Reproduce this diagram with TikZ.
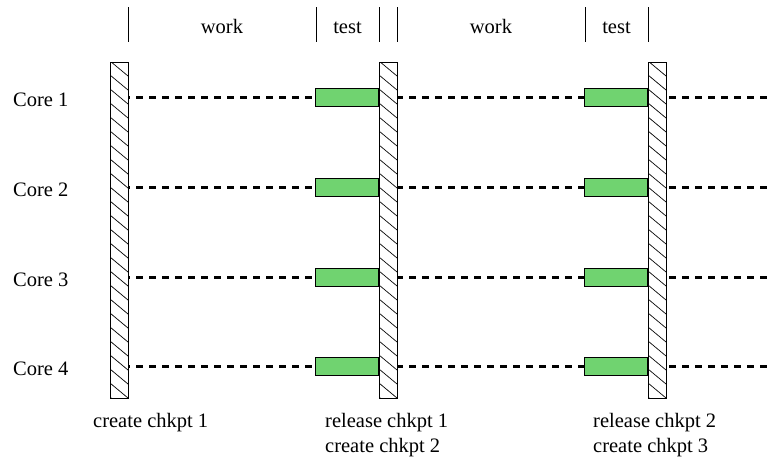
\documentclass[tikz,border=0pt]{standalone}
\usepackage{fontspec}
\setmainfont{Liberation Serif}
\usetikzlibrary{positioning}
\definecolor{testgreen}{RGB}{112,211,112}
\begin{document}
\begin{tikzpicture}[x=1pt, y=-1pt,
  txt/.style={font=\fontsize{20.5}{25}\selectfont, inner sep=0pt},
  chkbar/.style={draw, line width=0.9pt, fill=white, minimum width=18pt, minimum height=336pt, inner sep=0pt,
    path picture={\foreach \k in {0,...,26} \draw[line width=0.7pt] (path picture bounding box.north west) ++(0,\k*14-15) -- ++(18,15);}},
  testbox/.style={draw, line width=0.9pt, fill=testgreen, minimum width=63pt, minimum height=18pt, inner sep=0pt},
  timeline/.style={line width=3pt, dash pattern=on 7pt off 6pt}]
\useasboundingbox (0,0) rectangle (771,461);
% phases on top
\foreach \x in {128,316,379,397,585,648} \draw[line width=0.9pt] (\x,7) -- (\x,42);
\node[txt, anchor=base] (work1) at (222,33) {work};
\node[txt, anchor=base] (test1) at (347.5,33) {test};
\node[txt, anchor=base] (work2) at (491,33) {work};
\node[txt, anchor=base] (test2) at (616.5,33) {test};
% cores and their timelines
\foreach \r/\y in {1/97,2/187,3/277,4/366} {
  \node[txt, anchor=base west] (core\r) at (13,\y+9) {Core \r};
  \coordinate (s\r) at (110,\y);
  \coordinate (e\r) at (771,\y);
  \draw[timeline] (s\r) -- (e\r);
}
% checkpoints
\node[chkbar] (bar1) at (119,230) {};
\node[chkbar] (bar2) at (388,230) {};
\node[chkbar] (bar3) at (657,230) {};
% tests before each checkpoint
\foreach \r in {1,...,4} {
  \node[testbox, anchor=east] (ta\r) at (bar2.west |- s\r) {};
  \node[testbox, anchor=east] (tb\r) at (bar3.west |- s\r) {};
}
% captions
\node[txt, anchor=base west, align=left] (cap1) at (93,427) {create chkpt 1};
\node[txt, anchor=base west, align=left] (cap2) at (325,452) {release chkpt 1\\create chkpt 2};
\node[txt, anchor=base west, align=left] (cap3) at (593,452) {release chkpt 2\\create chkpt 3};
\end{tikzpicture}
\end{document}
